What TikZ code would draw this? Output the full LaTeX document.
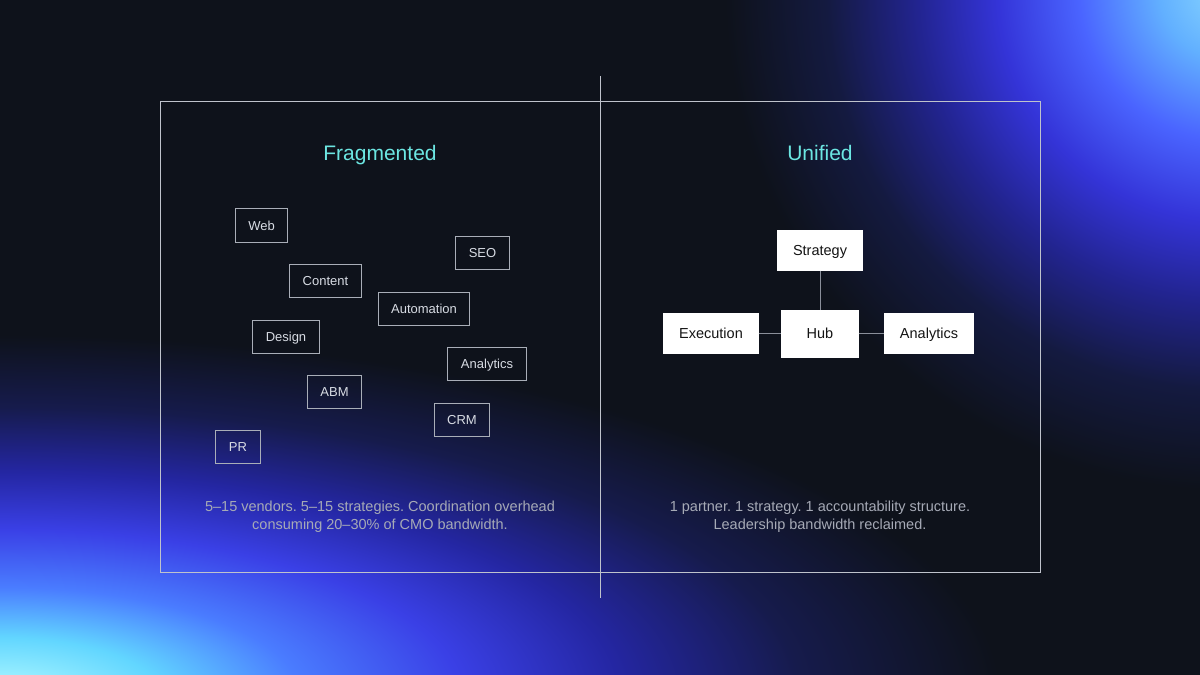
\documentclass[tikz,border=0pt]{standalone}
\usepackage{fontspec}
\setmainfont{Liberation Sans}
\frenchspacing
\definecolor{bg}{HTML}{0E121B}
\definecolor{framec}{HTML}{BFC3CC}
\definecolor{boxc}{HTML}{A9AEB8}
\definecolor{boxtext}{HTML}{D8DCE4}
\definecolor{titlec}{HTML}{6CE6E2}
\definecolor{notec}{HTML}{A6AAB6}
\definecolor{linkc}{HTML}{8A8F9A}
\definecolor{blA}{HTML}{B4FBFF}
\definecolor{blB}{HTML}{62D6FF}
\definecolor{blC}{HTML}{4A7CFF}
\definecolor{blD}{HTML}{3A40E6}
\definecolor{blE}{HTML}{2426A2}
\definecolor{blF}{HTML}{161B4C}
\definecolor{trA}{HTML}{8AD8FF}
\definecolor{trB}{HTML}{62B0FF}
\definecolor{trC}{HTML}{4A64FF}
\definecolor{trD}{HTML}{3434D8}
\definecolor{trE}{HTML}{222490}
\definecolor{trF}{HTML}{141A40}
\pgfdeclareradialshading{glowbl}{\pgfpoint{0bp}{0bp}}{color(0bp)=(blA); color(4bp)=(blB); color(7.5bp)=(blC); color(11.5bp)=(blD); color(15.5bp)=(blE); color(20bp)=(blF); color(25bp)=(bg); color(50bp)=(bg)}
\pgfdeclareradialshading{glowtr}{\pgfpoint{0bp}{0bp}}{color(0bp)=(trA); color(3.5bp)=(trB); color(7.5bp)=(trC); color(11.5bp)=(trD); color(15.5bp)=(trE); color(20bp)=(trF); color(25bp)=(bg); color(50bp)=(bg)}
\tikzset{
  vendor/.style={draw=boxc, line width=1bp, text=boxtext, font=\fontsize{13bp}{15bp}\selectfont, minimum height=33bp, inner xsep=13bp, inner ysep=0bp, text height=9.4bp, text depth=0bp},
  unit/.style={draw=white, fill=white, text=black!92, font=\fontsize{14.5bp}{17bp}\selectfont, minimum height=40bp, inner xsep=15.5bp, inner ysep=0bp, text height=10.4bp, text depth=0bp},
  link/.style={draw=linkc, line width=1bp},
  paneltitle/.style={text=titlec, font=\fontsize{21bp}{25bp}\selectfont, anchor=base},
  note/.style={text=notec, font=\fontsize{14.5bp}{18bp}\selectfont, align=center},
  frameline/.style={draw=framec, line width=1bp}
}
\begin{document}
\begin{tikzpicture}[x=1bp, y=-1bp]
\useasboundingbox (0,0) rectangle (1200,675);
\fill[bg] (0,0) rectangle (1200,675);
\begin{scope}
  \clip (0,0) rectangle (1200,675);
  \shade[shading=glowbl] (0,695) ellipse [x radius=1000, y radius=360];
  \shade[shading=glowtr] (1230,-10) ellipse [x radius=505, y radius=500];
\end{scope}
% frame and divider
\draw[frameline] (160,102) rectangle (1040,572);
\coordinate (divtop) at (600,76);
\coordinate (divbot) at (600,598);
\draw[frameline] (divtop) -- (divbot);
% titles
\node[paneltitle] (tfrag) at (380,161) {Fragmented};
\node[paneltitle] (tuni) at (820,161) {Unified};
% fragmented vendors
\node[vendor] (web) at (261.5,225.5) {Web};
\node[vendor] (seo) at (482.5,253) {SEO};
\node[vendor] (content) at (325.5,281) {Content};
\node[vendor] (automation) at (424,308.5) {Automation};
\node[vendor] (design) at (286,336.5) {Design};
\node[vendor] (analyticsL) at (487,364) {Analytics};
\node[vendor] (abm) at (334.5,391.5) {ABM};
\node[vendor] (crm) at (462,419.5) {CRM};
\node[vendor] (pr) at (238,447) {PR};
% unified
\node[unit] (strategy) at (820,250.5) {Strategy};
\node[unit, minimum width=77bp, minimum height=47bp] (hub) at (820,333.5) {Hub};
\node[unit] (execution) at (711,333.5) {Execution};
\node[unit] (analyticsR) at (929,333.5) {Analytics};
\draw[link] (strategy) -- (hub);
\draw[link] (execution) -- (hub);
\draw[link] (hub) -- (analyticsR);
% notes
\node[note] (nleft) at (380,517) {5–15 vendors. 5–15 strategies. Coordination overhead\\consuming 20–30\% of CMO bandwidth.};
\node[note] (nright) at (820,517) {1 partner. 1 strategy. 1 accountability structure.\\Leadership bandwidth reclaimed.};
\end{tikzpicture}
\end{document}
